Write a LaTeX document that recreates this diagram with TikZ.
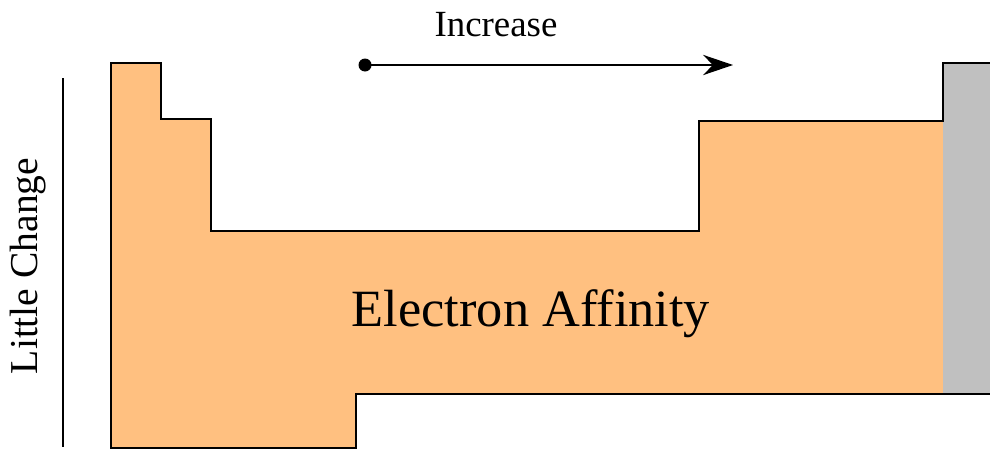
\documentclass[tikz,border=0pt]{standalone}
\usepackage{fontspec}
\setmainfont{Liberation Serif}
\usepackage{xcolor}
\usepackage{tikz}
\usetikzlibrary{arrows.meta,positioning}
\definecolor{eaorange}{RGB}{255,192,128}
\definecolor{noblegray}{RGB}{192,192,192}

\begin{document}
\begin{tikzpicture}[x=0.02cm,y=-0.02cm,>=Stealth,
    edge/.style={line width=1.5pt,line join=miter},
    label/.style={inner sep=0pt,text=black}]
  \useasboundingbox (0,0) rectangle (990,450);
  \clip (0,0) rectangle (990,450);
  % main block of the table
  \fill[eaorange] (111,63) -- (161,63) -- (161,119) -- (211,119) -- (211,231)
    -- (699,231) -- (699,121) -- (943,121) -- (943,394) -- (356,394)
    -- (356,448) -- (111,448) -- cycle;
  % noble gas column
  \fill[noblegray] (943,63) rectangle (1000,394);
  % outline
  \draw[edge] (1000,63) -- (943,63) -- (943,121) -- (699,121) -- (699,231)
    -- (211,231) -- (211,119) -- (161,119) -- (161,63) -- (111,63)
    -- (111,448) -- (356,448) -- (356,394) -- (1000,394);
  % trend along a period
  \coordinate (start) at (365,65);
  \coordinate (stop) at (733,65);
  \fill (start) circle (6.5);
  \draw[->,line width=1.4pt,arrows={-Stealth[length=17pt,width=11.5pt]}] (start) -- (stop);
  \node[label,font=\fontsize{21}{24}\selectfont] (incr) at (496,25) {Increase};
  % trend down a group
  \coordinate (top) at (63,78);
  \coordinate (bot) at (63,447);
  \draw[line width=1.5pt] (top) -- (bot);
  \node[label,rotate=90,font=\fontsize{22.5}{26}\selectfont] (little) at (28,266) {Little Change};
  % property name
  \node[label,font=\fontsize{29.8}{32}\selectfont] (prop) at (531,314) {Electron Affinity};
\end{tikzpicture}
\end{document}
